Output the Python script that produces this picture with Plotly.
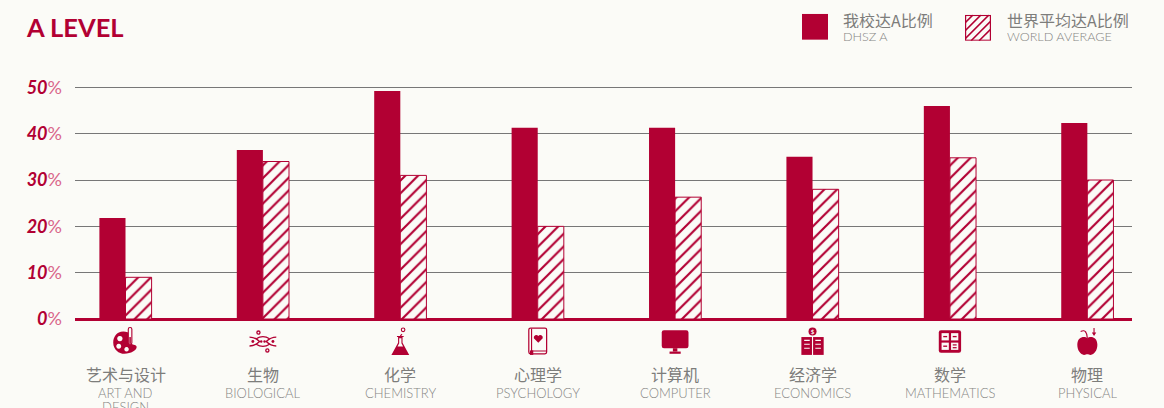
import base64
import plotly.graph_objects as go

CRIMSON = "#B20033"
BG = "#FBFBF7"
GRID = "#777777"
TXT_CN = "#7d7d7b"
TXT_EN = "#868684"

categories = ["ART", "BIO", "CHEM", "PSY", "COMP", "ECON", "MATH", "PHYS"]
labels_cn = ["艺术与设计", "生物", "化学", "心理学", "计算机", "经济学", "数学", "物理"]
labels_en = [["ART AND", "DESIGN"], ["BIOLOGICAL"], ["CHEMISTRY"], ["PSYCHOLOGY"], ["COMPUTER"], ["ECONOMICS"], ["MATHEMATICS"], ["PHYSICAL"]]
school = [21.8, 36.5, 49.2, 41.3, 41.3, 35.0, 46.0, 42.3]
world = [9.0, 34.0, 31.0, 20.0, 26.3, 28.0, 34.8, 30.0]
y_ticks = [0, 10, 20, 30, 40, 50]
legend_cn = ["我校达A比例", "世界平均达A比例"]
legend_en = ["DHSZ A", "WORLD AVERAGE"]

W, H = 1164, 408
PX_PER_UNIT = 4.63
Y_MAX = 50.3
L, R, B = 75, 1132, 319
T = B - Y_MAX * PX_PER_UNIT
x_lo, x_hi = -0.3675, 7.325


def svg(body):
    s = f'<svg xmlns="http://www.w3.org/2000/svg" width="104" height="104" viewBox="0 0 26 26">{body}</svg>'
    return "data:image/svg+xml;base64," + base64.b64encode(s.encode()).decode()


c = CRIMSON
icons = [
    svg(f'<path fill="{c}" fill-rule="evenodd" d="M11 4C5 4 2 9 2 14c0 6 5 10 10 10 6 0 11-3 11-6 0-2-3-2-5-3V6c-2-1-4-2-7-2zM8 8a2.4 2.4 0 1 1-.1 0zM7 15a2.2 2.2 0 1 1-.1 0zM14 18a2 2 0 1 1-.1 0z"/>'
        f'<rect x="15.5" y="0.5" width="3.2" height="15" rx="1.5" fill="{BG}" stroke="{c}" stroke-width="1"/><rect x="16.4" y="9" width="1.4" height="6" fill="{c}"/>'),
    svg(f'<g fill="none" stroke="{c}" stroke-width="1.200"><path d="M1 9c4 0 6 1 9 4-3 3-5 4-9 4"/><path d="M25 9c-4 0-6 1-9 4 3 3 5 4 9 4"/><path d="M7 10.500c4-2.500 8-2.500 12 0M7 15.500c4 2.500 8 2.500 12 0"/><circle cx="9" cy="5" r="1.400"/><circle cx="17" cy="21" r="1.400"/></g>'
        f'<g fill="{c}"><circle cx="4" cy="13" r="1.300"/><circle cx="11.500" cy="13" r="1.100"/><circle cx="14.500" cy="13" r="1.100"/><circle cx="22" cy="13" r="1.300"/></g>'),
    svg(f'<path fill="{c}" d="M10 8h6v1h-1v5l6 11H5l6-11V9h-1z"/><path fill="{BG}" d="M12 10h2v4.500l1.500 3h-5l1.500-3z"/><g fill="none" stroke="{c}" stroke-width="1"><circle cx="15.500" cy="2.500" r="1.600"/><path d="M14.500 6.500l-1.500 1.500"/></g>'),
    svg(f'<rect x="5" y="1" width="16" height="23" rx="1.500" fill="{BG}" stroke="{c}" stroke-width="1.100"/><path stroke="{c}" fill="none" d="M7.500 1.500V21.500H20.500"/><path fill="{c}" d="M13.500 14l-4-4a2.300 2.300 0 0 1 4-2 2.300 2.300 0 0 1 4 2z"/><rect x="6" y="21" width="3" height="4" fill="{c}"/>'),
    svg(f'<rect x="1" y="3" width="24" height="16" rx="2" fill="{c}"/><rect x="11" y="19" width="4" height="3" fill="{c}"/><rect x="8" y="22" width="10" height="2" fill="{c}"/>'),
    svg(f'<circle cx="13" cy="4" r="3.600" fill="{c}"/><text x="13" y="6" font-size="5.500" text-anchor="middle" fill="{BG}" font-family="Lato" font-weight="700">$</text>'
        f'<rect x="3" y="9" width="20" height="16" fill="{c}"/><g stroke="{BG}" stroke-width="1" fill="none"><path d="M13 9v16M5.500 12h5M5.500 15.500h5M5.500 19h5M15.500 12h5M15.500 15.500h5M15.500 19h5"/></g>'),
    svg(f'<rect x="3" y="3" width="20" height="20" rx="2" fill="{c}"/><g fill="{BG}"><rect x="5.500" y="5.500" width="6.500" height="6.500"/><rect x="14" y="5.500" width="6.500" height="6.500"/><rect x="5.500" y="14" width="6.500" height="6.500"/><rect x="14" y="14" width="6.500" height="6.500"/></g>'
        f'<g fill="{c}"><rect x="7" y="8" width="3.500" height="1.200"/><rect x="15.500" y="8" width="3.500" height="1.200"/><rect x="7" y="16.600" width="3.500" height="1.200"/><rect x="15.500" y="15.500" width="3.500" height="1.100"/><rect x="15.500" y="18" width="3.500" height="1.100"/></g>'),
    svg(f'<path fill="{c}" d="M13 10c-2-2-9-2-9 6 0 5 3 9 6 9 1.500 0 2-.6 3-.6s1.500.6 3 .6c3 0 6-4 6-9 0-8-7-8-9-6z"/><path fill="none" stroke="{c}" stroke-width="1" d="M13 10c0-3-1-5-2-6M7 4c2-1 4-1 5 1"/><path fill="{c}" d="M18.500 1h1v4h1.500l-2 3-2-3h1.500z"/>'),
]

swatch_solid = svg(f'<rect width="26" height="26" fill="{c}"/>')
stripes = "".join(f'<path d="M{k} 26L26 {k}" stroke="{c}" stroke-width="1.500"/>' if k > 0 else f'<path d="M0 {26+k}L{26+k} 0" stroke="{c}" stroke-width="1.500"/>' for k in (-18, -10, -2, 6, 14))
swatch_hatch = svg(f'<rect x=".6" y=".6" width="24.800" height="24.800" fill="{BG}"/>{stripes}<rect x=".6" y=".6" width="24.800" height="24.800" fill="none" stroke="{c}" stroke-width="1.200"/>')

fig = go.Figure()
fig.add_bar(x=list(range(8)), y=school, name=legend_en[0], marker=dict(color=CRIMSON, line=dict(width=0)))
fig.add_bar(x=list(range(8)), y=world, name=legend_en[1],
            marker=dict(color=BG, line=dict(color=CRIMSON, width=1),
                        pattern=dict(shape="/", fgcolor=CRIMSON, bgcolor=BG, fgopacity=1, fillmode="replace", size=9, solidity=0.24)))


def px_y(p):
    return (B - p) / (B - T)


def px_x(p):
    return (p - L) / (R - L)


anns = []
images = []
for i in range(8):
    anns.append(dict(x=i, xref="x", y=px_y(374), yref="paper", text=labels_cn[i], showarrow=False, yanchor="middle",
                     font=dict(family="Noto Sans CJK SC", size=16, color=TXT_CN)))
    for j, line in enumerate(labels_en[i]):
        anns.append(dict(x=i, xref="x", y=px_y(392 + 14 * j), yref="paper", text=line, showarrow=False, yanchor="middle",
                         height=13, font=dict(family="Lato", size=13, color=TXT_EN, weight=300)))
    images.append(dict(source=icons[i], xref="x", yref="paper", x=i, y=px_y(327), xanchor="center", yanchor="top",
                       sizex=29 / ((R - L) / (x_hi - x_lo)), sizey=29 / (B - T), sizing="contain", layer="above"))

for sw, sx, sy in ((swatch_solid, 802, 14), (swatch_hatch, 965, 15)):
    images.append(dict(source=sw, xref="paper", yref="paper", x=px_x(sx), y=px_y(sy), xanchor="left", yanchor="top",
                       sizex=26 / (R - L), sizey=26 / (B - T), sizing="stretch", layer="above"))
for i, tx in enumerate((840.5, 1004.5)):
    anns.append(dict(x=px_x(tx), xref="paper", y=px_y(20), yref="paper", text=legend_cn[i], showarrow=False, xanchor="left", yanchor="middle",
                     height=17, font=dict(family="Noto Sans CJK SC", size=16, color=TXT_CN)))
    anns.append(dict(x=px_x(tx), xref="paper", y=px_y(37), yref="paper", text=legend_en[i], showarrow=False, xanchor="left", yanchor="middle",
                     height=13, font=dict(family="Lato", size=12.6, color=TXT_EN, weight=300)))

tick_text = [f'<b><i>{v}</i></b><span style="color:#D9668A">%</span>' for v in y_ticks]

fig.update_layout(
    width=W, height=H, autosize=False,
    margin=dict(l=L, r=W - R, t=T, b=H - B, pad=0),
    paper_bgcolor=BG, plot_bgcolor=BG,
    showlegend=False,
    barmode="group", bargap=0.62, bargroupgap=0,
    title=dict(text="<b>A LEVEL</b>", x=27 / W, xanchor="left", y=1 - 28 / H, yanchor="middle",
               font=dict(family="Lato", size=25.5, color=CRIMSON)),
    xaxis=dict(range=[x_lo, x_hi], showticklabels=False, showgrid=False, zeroline=False, ticks="", fixedrange=True),
    yaxis=dict(range=[0, Y_MAX], tickmode="array", tickvals=y_ticks, ticktext=tick_text, showgrid=True, gridcolor=GRID, gridwidth=1,
               zeroline=True, zerolinecolor=CRIMSON, zerolinewidth=2.5, showline=False, ticks="", ticklabelstandoff=12,
               tickfont=dict(family="Lato", size=18, color=CRIMSON), fixedrange=True),
    annotations=anns, images=images,
)
fig.write_html("out.html", config=dict(displayModeBar=False), post_script="document.body.style.margin='0';document.body.style.overflow='hidden';")
